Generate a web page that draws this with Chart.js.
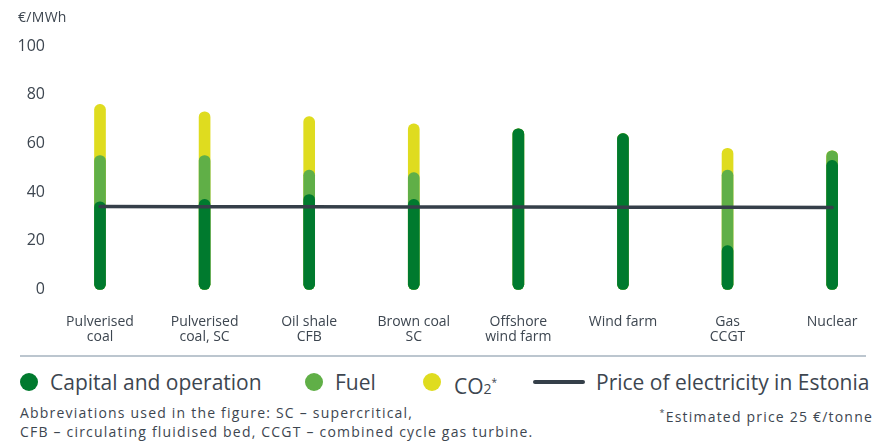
<!DOCTYPE html>
<html>
<head>
<meta charset="utf-8">
<title>Electricity generation cost</title>
<script src="https://cdn.jsdelivr.net/npm/chart.js@4.4.1/dist/chart.umd.min.js"></script>
<style>
  body { margin: 0; background: #fff; font-family: "Open Sans", sans-serif; color: #3d4650; }
  #wrap { position: relative; width: 882px; height: 442px; overflow: hidden; }
  #chart-box { position: absolute; left: 0; top: 0; width: 882px; height: 352px; }
  .abs { position: absolute; white-space: nowrap; }
  #unit { left: 18px; top: 7px; font-size: 14px; color: #3d4650; letter-spacing: 0.3px; }
  #rule { left: 20px; top: 355px; width: 846px; height: 2px; background: #bcc6cf; }
  .lg { top: 369px; height: 26px; line-height: 26px; font-size: 21px; color: #3d4650; }
  .dot { position: absolute; top: 373px; width: 18px; height: 18px; border-radius: 50%; }
  .note { font-size: 14px; line-height: 19px; color: #3d4650; letter-spacing: 1.2px; }
</style>
</head>
<body>
<div id="wrap">
  <div id="chart-box"><canvas id="costChart"></canvas></div>
  <div id="unit" class="abs">€/MWh</div>
  <div id="rule" class="abs"></div>

  <span class="dot" style="left:20px;background:#007a2e"></span>
  <span class="abs lg" style="left:50px">Capital and operation</span>
  <span class="dot" style="left:305px;background:#60af47"></span>
  <span class="abs lg" style="left:335px">Fuel</span>
  <span class="dot" style="left:423px;background:#dfdc1f"></span>
  <span class="abs lg" style="left:454px">CO<span style="font-size:14px">2</span><sup style="font-size:10px;vertical-align:8px">*</sup></span>
  <span class="abs" style="left:533px;top:380px;width:52px;height:4px;border-radius:2px;background:#353f49"></span>
  <span class="abs lg" style="left:596px">Price of electricity in Estonia</span>

  <div class="abs note" style="left:20px;top:403px">Abbreviations used in the figure: SC – supercritical,<br>CFB – circulating fluidised bed, CCGT – combined cycle gas turbine.</div>
  <div class="abs note" style="right:9px;top:403px"><sup style="font-size:9px">*</sup>Estimated price 25 €/tonne</div>
</div>

<script>
// cost components per technology, €/MWh
const categories = [
    ['Pulverised', 'coal'],
    ['Pulverised', 'coal, SC'],
    ['Oil shale', 'CFB'],
    ['Brown coal', 'SC'],
    ['Offshore', 'wind farm'],
    ['Wind farm'],
    ['Gas', 'CCGT'],
    ['Nuclear']
];
const capitalOperation = [36, 37, 39, 37, 66, 64, 18, 53];
const fuel = [19, 18, 10, 11, 0, 0, 31, 4];
const co2 = [21, 18, 22, 20, 0, 0, 9, 0];
const estoniaPrice = [34.1, 34.0, 34.0, 33.9, 33.9, 33.8, 33.8, 33.7];
const yTicks = [0, 20, 40, 60, 80, 100];

const COLORS = {
    capital: '#007a2e',
    fuel: '#60af47',
    co2: '#dfdc1f',
    price: '#353f49',
    text: '#3d4650'
};

// bars overlap in one slot, so each segment is drawn up to its running total
const fuelTop = capitalOperation.map((v, i) => v + fuel[i]);
const co2Top = fuelTop.map((v, i) => v + co2[i]);

function barSet(label, data, color, order) {
    return {
        type: 'bar',
        label,
        data,
        backgroundColor: color,
        barThickness: 11,
        borderRadius: 6,
        borderSkipped: false,
        clip: false,
        order
    };
}

window.addEventListener('DOMContentLoaded', () => {
    const ctx = document.getElementById('costChart').getContext('2d');
    new Chart(ctx, {
        data: {
            labels: categories,
            datasets: [
                {
                    type: 'line',
                    label: 'Price of electricity in Estonia',
                    data: estoniaPrice,
                    borderColor: COLORS.price,
                    borderWidth: 3.5,
                    borderCapStyle: 'round',
                    pointRadius: 0,
                    clip: false,
                    order: 0
                },
                barSet('Capital and operation', capitalOperation, COLORS.capital, 1),
                barSet('Fuel', fuelTop, COLORS.fuel, 2),
                barSet('CO2', co2Top, COLORS.co2, 3)
            ]
        },
        options: {
            responsive: true,
            maintainAspectRatio: false,
            animation: false,
            layout: { padding: { top: 46, right: 42, left: 0, bottom: 0 } },
            plugins: { legend: { display: false }, tooltip: { enabled: false } },
            scales: {
                x: {
                    stacked: true,
                    offset: false,
                    grid: { display: false, drawTicks: false },
                    border: { display: false },
                    ticks: {
                        color: COLORS.text,
                        font: { family: 'Open Sans', size: 14, lineHeight: 1.1 },
                        padding: 24.5,
                        autoSkip: false,
                        maxRotation: 0
                    },
                    afterFit: s => { s.height = 352 - 289.5; }
                },
                y: {
                    stacked: false,
                    min: 0,
                    max: 100,
                    grid: { display: false, drawTicks: false },
                    border: { display: false },
                    afterBuildTicks: s => { s.ticks = yTicks.map(v => ({ value: v })); },
                    ticks: {
                        color: COLORS.text,
                        font: { family: 'Open Sans', size: 16 },
                        padding: 55
                    },
                    // wide label gap, but keep the plot height from growing with it
                    afterFit: s => {
                        s.width = 100;
                        s.paddingTop = 0;
                        s.paddingBottom = 0;
                    }
                }
            }
        }
    });
});
</script>
</body>
</html>
